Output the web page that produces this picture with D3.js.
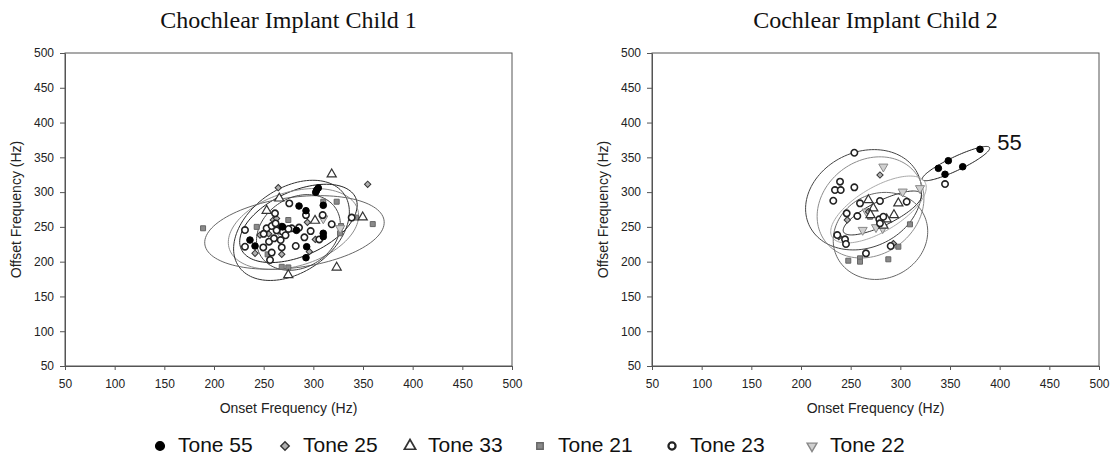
<!DOCTYPE html>
<html><head><meta charset="utf-8">
<script src="https://cdn.jsdelivr.net/npm/d3@7"></script>
<style>body{margin:0;background:#fff}svg{display:block}</style>
</head><body>
<svg id="chart" width="1115" height="463"></svg>
<script>
// ---------- DATA ----------
const axisTicks = [50,100,150,200,250,300,350,400,450,500];
const tones = ["55","25","33","21","23","22"];
const legendLabels = ["Tone 55","Tone 25","Tone 33","Tone 21","Tone 23","Tone 22"];
const panelTitles = ["Chochlear Implant Child 1","Cochlear Implant Child 2"];
const xTitle = "Onset Frequency (Hz)";
const yTitle = "Offset Frequency (Hz)";

// Child 1 points [onset, offset]
const child1Tone55 = [[303.4,303],[302.4,299.7],[305,306],[285.6,280],[292.6,273.3],[310,281],[310,240.8],[310,236],[293.3,221.5],[292.6,205.7],[236.2,231.1],[241.3,222.5],[283,245],[269,250]];
const child1Tone25 = [[264.7,306.3],[354.7,311.2],[294,256.5],[296,214.4],[241.3,212],[246.3,238.3],[259.7,259.9],[268.2,210.5],[263,262],[302,232],[255,240]];
const child1Tone33 = [[318.5,325.6],[265.7,291],[253,273.3],[301.7,259],[349.7,263.8],[323.5,191.7],[274.8,180.8]];
const child1Tone21 = [[189,248],[310,286.2],[323.5,286.2],[343,263.4],[359.8,254],[327.9,251.3],[326.9,240.8],[274.8,259.9],[268.2,192.6],[274.8,191.7],[254,210.5],[243,250]];
const child1Tone23 = [[275.8,283.8],[292.6,267],[261.4,269.5],[309.4,267],[318.5,253.8],[338.6,263.4],[306,232],[297.3,244],[291,235],[282.3,222.5],[285.6,249],[278.2,248],[231.2,245.5],[231.2,221.5],[249.6,220.5],[255.4,228.8],[253,248],[258.1,251.3],[268.2,250.3],[269.2,243.1],[260.4,233.5],[267.1,231.1],[268.2,220.5],[258.1,213.1],[256.4,202.4],[263,245],[275,247],[250,240],[262,255],[272,238]];
const child1Tone22 = [[310,262],[327,248],[265,245]];

// Child 2 points [onset, offset]
const child2Tone55 = [[348.3,345.1],[338.3,334.2],[362.8,336.5],[345,325.6],[380.2,361.5]];
const child2Tone25 = [[279.5,324.6],[246.6,260],[238,236],[293,226],[268,271.8]];
const child2Tone33 = [[267.8,288.6],[272.8,276.7],[286.3,260.9],[293.6,267.1],[298,283.9],[270,267],[283,252]];
const child2Tone21 = [[247.6,201.4],[259.4,204.8],[259.4,200],[287.9,203.4],[298,221.5],[309.7,253.7],[269.5,264.6]];
const child2Tone23 = [[253.7,356.6],[239.3,315],[234.2,303],[240,303],[253.7,306.9],[232.5,287.6],[345,311.6],[246,269.5],[259.4,283.9],[279.5,287.2],[256.7,265.6],[278.8,260.9],[279.5,255.1],[282.9,264.6],[306.4,286.2],[236.5,238.3],[244.3,232.1],[245.3,225.4],[290.3,222.5],[265.4,212]];
const child2Tone22 = [[282.9,336.5],[302.4,300.6],[319.8,305.5],[262.1,245.5],[275.5,249.4],[282.2,248],[266.1,271.8]];

// Confidence ellipses: [tone, centerOnset, centerOffset, semiMajor, semiMinor, angleDeg]
const child1Ellipses = [["55",285,255,70,42,42],["25",280,247,72,50,35],["33",278,245,78,50,60],["21",281,242,92,50,13],["23",285,242,56,40,70]];
const child2Ellipses = [["55",356,341,41,9,35],["23",263,289,74,56,70],["25",270,278,74,52,75],["33",282,270,48,16,37],["21",280,237,63,47,80],["22",278,275,62,28,45]];

// ---------- STYLES ----------
const toneStyle = {
  "55": {type: d3.symbolCircle, size: 34, fill: "#000", stroke: "#000", sw: 1, rot: 0, leg: 60},
  "25": {type: d3.symbolSquare, size: 20, fill: "#b0b0b0", stroke: "#333", sw: 1, rot: 45, leg: 36},
  "33": {type: d3.symbolTriangle, size: 36, fill: "#fff", stroke: "#333", sw: 1.2, rot: 0, leg: 55},
  "21": {type: d3.symbolSquare, size: 25, fill: "#8a8a8a", stroke: "#666", sw: 1, rot: 0, leg: 42},
  "23": {type: d3.symbolCircle, size: 32, fill: "#fff", stroke: "#222", sw: 1.6, rot: 0, leg: 40},
  "22": {type: d3.symbolTriangle, size: 36, fill: "#d0d0d0", stroke: "#888", sw: 1, rot: 180, leg: 42}
};
const ellipseColor = {"55":"#222","25":"#8c8c8c","33":"#333","21":"#666","23":"#444","22":"#aaa"};

const panels = [
  {title: panelTitles[0], left: 65, right: 512, points: {"55":child1Tone55,"25":child1Tone25,"33":child1Tone33,"21":child1Tone21,"23":child1Tone23,"22":child1Tone22}, ellipses: child1Ellipses, tag: null},
  {title: panelTitles[1], left: 652, right: 1099, points: {"55":child2Tone55,"25":child2Tone25,"33":child2Tone33,"21":child2Tone21,"23":child2Tone23,"22":child2Tone22}, ellipses: child2Ellipses, tag: "55"}
];
const plotTop = 53, plotBottom = 366;

const svg = d3.select("#chart");
svg.append("rect").attr("width",1115).attr("height",463).attr("fill","#fff");

panels.forEach(p => {
  const x = d3.scaleLinear().domain([50,500]).range([p.left,p.right]);
  const y = d3.scaleLinear().domain([50,500]).range([plotBottom,plotTop]);
  const g = svg.append("g");

  g.append("rect").attr("x",p.left).attr("y",plotTop).attr("width",p.right-p.left).attr("height",plotBottom-plotTop)
    .attr("fill","none").attr("stroke","#555").attr("stroke-width",1);

  const ax = g.append("g").attr("transform",`translate(0,${plotBottom})`)
    .call(d3.axisBottom(x).tickValues(axisTicks).tickSize(4).tickPadding(9).tickSizeOuter(0));
  const ay = g.append("g").attr("transform",`translate(${p.left},0)`)
    .call(d3.axisLeft(y).tickValues(axisTicks).tickSize(5).tickPadding(6).tickSizeOuter(0));
  [ax, ay].forEach(a => {
    a.select(".domain").attr("stroke","#555");
    a.selectAll(".tick line").attr("stroke","#555");
    a.selectAll(".tick text").attr("fill","#222").style("font-family","'Liberation Sans', Arial, sans-serif").style("font-size","12px");
  });

  const cx = (p.left+p.right)/2;
  g.append("text").attr("x",cx).attr("y",22).attr("text-anchor","middle").attr("dominant-baseline","middle")
    .style("font-family","'Liberation Serif','Times New Roman',serif").style("font-size","24px").attr("fill","#111").text(p.title);
  g.append("text").attr("x",cx).attr("y",409).attr("text-anchor","middle").attr("dominant-baseline","middle")
    .style("font-family","'Liberation Sans', Arial, sans-serif").style("font-size","14px").attr("fill","#222").text(xTitle);
  g.append("text").attr("transform",`translate(${p.left-48},${(plotTop+plotBottom)/2}) rotate(-90)`).attr("text-anchor","middle").attr("dominant-baseline","middle")
    .style("font-family","'Liberation Sans', Arial, sans-serif").style("font-size","14px").attr("fill","#222").text(yTitle);

  const line = d3.line().x(d=>x(d[0])).y(d=>y(d[1])).curve(d3.curveLinearClosed);
  const angles = d3.range(0,360,3);
  p.ellipses.forEach(e => {
    const [tone, ecx, ecy, a, b, deg] = e;
    const phi = deg*Math.PI/180;
    const pts = angles.map(t => {
      const r = t*Math.PI/180;
      return [ecx + a*Math.cos(r)*Math.cos(phi) - b*Math.sin(r)*Math.sin(phi),
              ecy + a*Math.cos(r)*Math.sin(phi) + b*Math.sin(r)*Math.cos(phi)];
    });
    g.append("path").attr("d",line(pts)).attr("fill","none").attr("stroke",ellipseColor[tone]).attr("stroke-width",1);
  });

  ["21","22","25","33","23","55"].forEach(tone => {
    const st = toneStyle[tone];
    const sym = d3.symbol().type(st.type).size(st.size);
    g.selectAll(null).data(p.points[tone]).join("path")
      .attr("d",sym)
      .attr("transform",d=>`translate(${x(d[0])},${y(d[1])}) rotate(${st.rot})`)
      .attr("fill",st.fill).attr("stroke",st.stroke).attr("stroke-width",st.sw);
  });

  if (p.tag) {
    const e = p.ellipses.find(v => v[0]===p.tag);
    g.append("text").attr("x",x(e[1]+e[3]*Math.cos(e[5]*Math.PI/180))+8).attr("y",y(e[2]+e[3]*Math.sin(e[5]*Math.PI/180))-3)
      .attr("dominant-baseline","middle")
      .style("font-family","'Liberation Sans', Arial, sans-serif").style("font-size","22px").attr("fill","#111").text(p.tag);
  }
});

const legendSymX = [160,285,410,540,672,812];
const legendY = 446;
const lg = svg.append("g");
tones.forEach((tone,i) => {
  const st = toneStyle[tone];
  lg.append("path").attr("d",d3.symbol().type(st.type).size(st.leg))
    .attr("transform",`translate(${legendSymX[i]},${legendY}) rotate(${st.rot})`)
    .attr("fill",st.fill).attr("stroke",st.stroke).attr("stroke-width",st.sw*1.4);
  lg.append("text").attr("x",legendSymX[i]+18).attr("y",legendY).attr("dominant-baseline","middle")
    .style("font-family","'Liberation Sans', Arial, sans-serif").style("font-size","21px").attr("fill","#111").text(legendLabels[i]);
});
</script>
</body></html>
